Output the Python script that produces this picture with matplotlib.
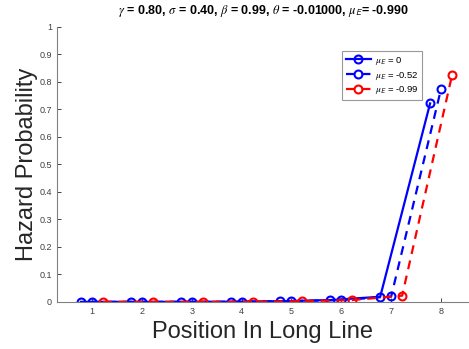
import matplotlib
matplotlib.use("Agg")
import matplotlib.pyplot as plt

plt.rcParams["font.family"] = ["Liberation Sans", "DejaVu Sans"]
plt.rcParams["mathtext.fontset"] = "stix"

positions = [1, 2, 3, 4, 5, 6, 7, 8]
offsets = [-0.22, 0.0, 0.22]
labels = [r"$\mu_{\mathsf{E}}$ = 0", r"$\mu_{\mathsf{E}}$ = -0.52", r"$\mu_{\mathsf{E}}$ = -0.99"]
hazard_0 = [0.0005, 0.0005, 0.0006, 0.001, 0.003, 0.007, 0.019, 0.722]
hazard_052 = [0.0005, 0.0005, 0.0006, 0.001, 0.003, 0.007, 0.020, 0.775]
hazard_099 = [0.0005, 0.0005, 0.0006, 0.001, 0.003, 0.007, 0.023, 0.825]

colors = ["#0000ff", "#0000ff", "#ff0000"]
styles = ["-", "--", "--"]

fig = plt.figure(figsize=(4.69, 3.49), dpi=100)
ax = fig.add_axes([0.1215, 0.1347, 0.8785, 0.788])

for off, ys, c, ls, lab in zip(offsets, [hazard_0, hazard_052, hazard_099], colors, styles, labels):
    xs = [p + off for p in positions]
    ax.plot(xs, ys, ls, color=c, lw=1.6, marker="o", ms=5.7, mfc="none",
            mew=1.5, label=lab, dashes=(4, 3) if ls == "--" else (None, None))

ax.set_xlim(0.3, 8.56)
ax.set_ylim(0, 1)
ax.set_xticks(positions)
ax.set_yticks([i / 10 for i in range(11)])
ax.set_yticklabels(["0"] + [f"{i / 10:.1f}" for i in range(1, 10)] + ["1"])
ax.tick_params(direction="in", length=3, labelsize=6.5, colors="#262626",
               labelcolor="#404040", width=0.6)
for s in ["top", "right"]:
    ax.spines[s].set_visible(False)
for s in ["left", "bottom"]:
    ax.spines[s].set_color("#808080")
    ax.spines[s].set_linewidth(0.8)

ax.set_xlabel("Position In Long Line", fontsize=17, color="#262626", labelpad=4)
ax.set_ylabel("Hazard Probability", fontsize=17, color="#262626", labelpad=1)
ax.set_title(r"$\gamma$ = 0.80, $\sigma$ = 0.40, $\beta$ = 0.99, $\theta$ = -0.01000, $\mu_{\mathsf{E}}$= -0.990",
             fontsize=9, fontweight="bold", pad=9)

leg = ax.legend(loc="upper left", bbox_to_anchor=(0.68, 0.93), fontsize=6.8,
                handlelength=2.7, frameon=True, fancybox=False, edgecolor="#808080",
                borderpad=0.4, labelspacing=0.3, handletextpad=0.4)
leg.get_frame().set_linewidth(0.8)

fig.savefig("out.png", dpi=100)
